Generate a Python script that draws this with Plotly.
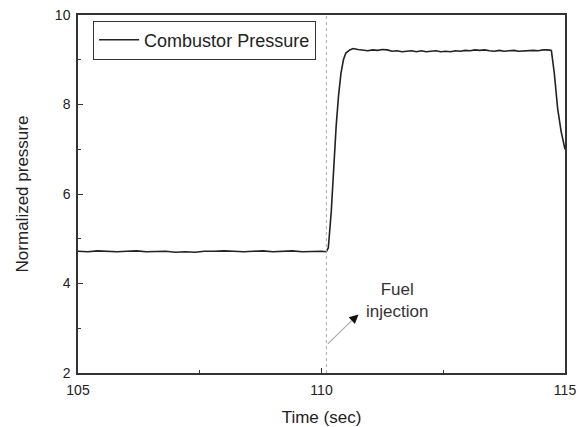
import plotly.graph_objects as go

time_s = [105.0, 105.2, 105.4, 105.6, 105.8, 106.0, 106.2, 106.4, 106.6, 106.8,
          107.0, 107.2, 107.4, 107.6, 107.8, 108.0, 108.2, 108.4, 108.6, 108.8,
          109.0, 109.2, 109.4, 109.6, 109.8, 110.0, 110.1, 110.14, 110.2, 110.25,
          110.3, 110.35, 110.4, 110.45, 110.5, 110.58, 110.65, 110.75, 110.85, 110.95,
          111.05, 111.15, 111.25, 111.35, 111.45, 111.55, 111.65, 111.75, 111.85, 111.95,
          112.05, 112.15, 112.25, 112.35, 112.45, 112.55, 112.65, 112.75, 112.85, 112.95,
          113.05, 113.15, 113.25, 113.35, 113.45, 113.55, 113.65, 113.75, 113.85, 113.95,
          114.05, 114.15, 114.25, 114.35, 114.45, 114.55, 114.65, 114.72, 114.78, 114.85,
          114.92, 115.0]
pressure = [4.72, 4.71, 4.73, 4.72, 4.71, 4.72, 4.73, 4.71, 4.72, 4.72,
            4.70, 4.71, 4.70, 4.72, 4.72, 4.73, 4.72, 4.71, 4.72, 4.73,
            4.71, 4.72, 4.73, 4.71, 4.72, 4.72, 4.71, 4.80, 5.60, 6.60,
            7.50, 8.20, 8.70, 9.00, 9.15, 9.22, 9.25, 9.23, 9.22, 9.20,
            9.22, 9.21, 9.23, 9.22, 9.19, 9.20, 9.18, 9.19, 9.20, 9.18,
            9.20, 9.18, 9.19, 9.20, 9.18, 9.19, 9.18, 9.20, 9.19, 9.21,
            9.20, 9.22, 9.21, 9.22, 9.20, 9.19, 9.21, 9.19, 9.20, 9.21,
            9.19, 9.20, 9.20, 9.21, 9.20, 9.22, 9.22, 9.21, 8.70, 7.90,
            7.40, 7.00]

injection_time = 110.1
x_ticks = [105, 110, 115]
y_ticks = [2, 4, 6, 8, 10]

FONT = "Liberation Sans, Arial, sans-serif"

fig = go.Figure()
fig.add_trace(go.Scatter(x=time_s, y=pressure, mode="lines", name="Combustor Pressure",
                         line=dict(color="#222222", width=1.6)))

fig.add_shape(type="line", x0=injection_time, x1=injection_time, y0=0, y1=1,
              xref="x", yref="paper", line=dict(color="#aaaaaa", width=1, dash="dot"))
fig.add_shape(type="line", x0=110.13, y0=2.65, x1=110.62, y1=3.17,
              xref="x", yref="y", line=dict(color="#aaaaaa", width=1.2))
fig.add_annotation(x=110.76, y=3.31, ax=110.6, ay=3.15, xref="x", yref="y",
                   axref="x", ayref="y", showarrow=True, arrowhead=2,
                   arrowsize=1.3, arrowwidth=1.4, arrowcolor="#111111", text="")
fig.add_annotation(x=111.55, y=3.61, xref="x", yref="y", showarrow=False,
                   text="Fuel<br>injection", align="center",
                   font=dict(family=FONT, size=17, color="#333333"))

axis_common = dict(showline=True, linecolor="#333333", linewidth=1.5, mirror=True,
                   ticks="inside", ticklen=5, tickwidth=1.2, tickcolor="#333333",
                   showgrid=False, zeroline=False, automargin=False,
                   tickfont=dict(family=FONT, size=14, color="#222222"))

fig.update_xaxes(range=[105, 115], tickvals=x_ticks, ticklabelstandoff=3,
                 minor=dict(ticks="inside", ticklen=3, tickcolor="#333333", dtick=2.5, tick0=105, showgrid=False),
                 title=dict(text="Time (sec)", font=dict(family=FONT, size=17, color="#222222"), standoff=17),
                 **axis_common)
fig.update_yaxes(range=[2, 10], tickvals=y_ticks, ticklabelstandoff=3,
                 minor=dict(ticks="inside", ticklen=3, tickcolor="#333333", dtick=1, tick0=2, showgrid=False),
                 title=dict(text="Normalized pressure", font=dict(family=FONT, size=17, color="#222222"), standoff=22),
                 **axis_common)

fig.update_layout(width=581, height=427, margin=dict(l=78, r=16, t=15, b=54),
                  paper_bgcolor="white", plot_bgcolor="white",
                  showlegend=True,
                  legend=dict(x=0.031, y=0.93, xanchor="left", yanchor="middle",
                              bordercolor="#333333", borderwidth=1, bgcolor="white",
                              font=dict(family=FONT, size=18, color="#222222"),
                              tracegroupgap=0, itemwidth=40))

fig.write_html("out.html")
